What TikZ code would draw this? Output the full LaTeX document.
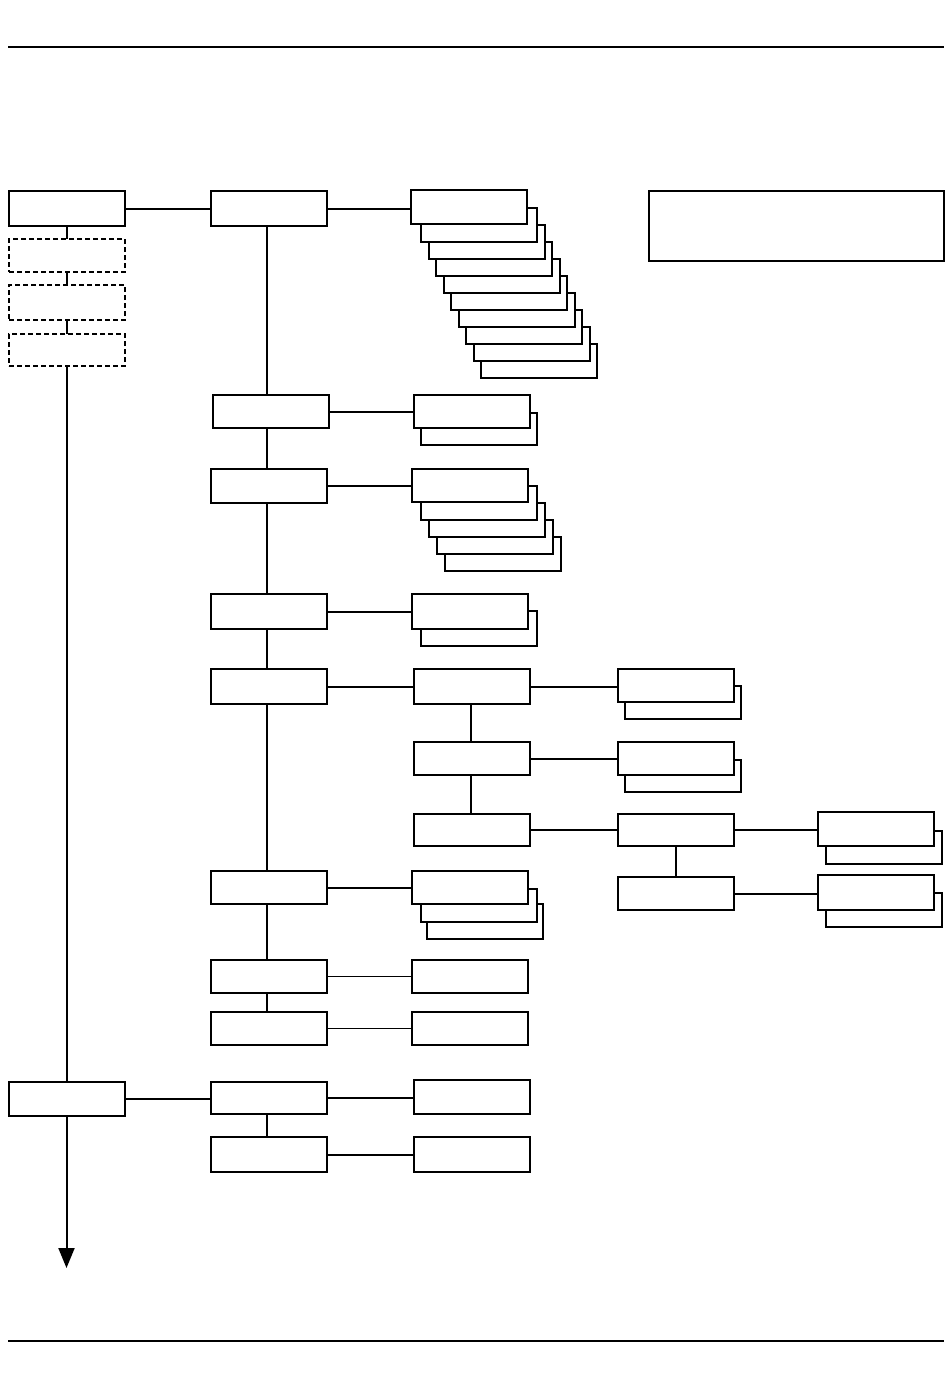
\documentclass[tikz,border=0pt]{standalone}
\usetikzlibrary{arrows.meta}
\begin{document}
\begin{tikzpicture}[x=1pt,y=-1pt,
  box/.style={draw, line width=2pt, fill=white, inner sep=0pt, outer sep=0pt,
              minimum width=116pt, minimum height=34pt},
  dbox/.style={box, dash pattern=on 5pt off 3pt},
  conn/.style={line width=2pt},
  thinconn/.style={line width=1pt},
  rule/.style={line width=1.6pt}]
\useasboundingbox (0,0) rectangle (950,1399);
% page rules
\coordinate (r1a) at (8,47);   \coordinate (r1b) at (944,47);
\coordinate (r2a) at (8,1341); \coordinate (r2b) at (944,1341);
\draw[rule] (r1a) -- (r1b);
\draw[rule] (r2a) -- (r2b);

% spine x positions
\coordinate (sp1) at (66.5,0);
\coordinate (sp2) at (266.5,0);
\coordinate (sp3) at (470.5,0);

% column 1
\node[box, minimum height=35pt] (A) at (67,208.5) {};
\node[dbox, minimum height=33pt] (D1) at (67,255.5) {};
\node[dbox, minimum height=35pt] (D2) at (67,302.5) {};
\node[dbox, minimum height=32pt] (D3) at (67,350) {};
\node[box] (Z) at (67,1099) {};
\coordinate (arrowend) at (66.5,1268);

% column 2
\node[box, minimum height=35pt] (B1) at (269,208.5) {};
\node[box, minimum height=33pt] (B2) at (271,411.5) {};
\node[box] (B3) at (269,486) {};
\node[box, minimum height=35pt] (B4) at (269,611.5) {};
\node[box, minimum height=35pt] (B5) at (269,686.5) {};
\node[box, minimum height=33pt] (B6) at (269,887.5) {};
\node[box, minimum height=33pt] (B7) at (269,976.5) {};
\node[box, minimum height=33pt] (B8) at (269,1028.5) {};
\node[box, minimum height=32pt] (B9) at (269,1098) {};
\node[box, minimum height=35pt] (B10) at (269,1154.5) {};

% column 3 : stack C1
\node[box] (C1i) at (539,360.5) {};
\node[box] (C1h) at (531.5,343.5) {};
\node[box] (C1g) at (524,326.5) {};
\node[box] (C1f) at (516.5,309.5) {};
\node[box] (C1e) at (509,292.5) {};
\node[box] (C1d) at (501.5,275.5) {};
\node[box] (C1c) at (494,258.5) {};
\node[box] (C1b) at (486.5,241.5) {};
\node[box] (C1a) at (479,224.5) {};
\node[box] (C1) at (469,207) {};
% stack C2
\node[box, minimum height=32pt] (C2a) at (479,428.7) {};
\node[box, minimum height=33pt] (C2) at (471.5,411.5) {};
% stack C3
\node[box] (C3d) at (502.7,554) {};
\node[box] (C3c) at (494.7,537) {};
\node[box] (C3b) at (486.7,520) {};
\node[box] (C3a) at (479.3,503) {};
\node[box, minimum height=33pt] (C3) at (469.7,485.5) {};
% stack C4
\node[box, minimum height=35pt] (C4a) at (479.2,628.2) {};
\node[box, minimum height=35pt] (C4) at (469.7,611.2) {};
% single boxes
\node[box, minimum height=35pt] (C5) at (471.5,686.5) {};
\node[box, minimum height=33pt] (C6) at (471.5,758.5) {};
\node[box, minimum height=32pt] (C7) at (471.5,830) {};
% stack C8
\node[box, minimum height=35pt] (C8b) at (485,921.2) {};
\node[box, minimum height=33pt] (C8a) at (479.2,905) {};
\node[box, minimum height=33pt] (C8) at (469.5,887.5) {};
\node[box, minimum height=33pt] (F1) at (469.7,976.5) {};
\node[box, minimum height=33pt] (F2) at (469.7,1028.5) {};
\node[box] (F3) at (471.5,1097) {};
\node[box, minimum height=35pt] (F4) at (471.5,1154.5) {};

% column 4
\node[box, minimum height=33pt] (G1a) at (683,702.5) {};
\node[box, minimum height=33pt] (G1) at (675.5,685.5) {};
\node[box, minimum height=32pt] (G2a) at (683,776) {};
\node[box, minimum height=33pt] (G2) at (675.5,758.5) {};
\node[box, minimum height=32pt] (G3) at (675.5,830) {};
\node[box, minimum height=33pt] (G4) at (675.5,893.5) {};

% column 5
\node[box, minimum height=33pt] (E1a) at (884,847.5) {};
\node[box] (E1) at (876,829) {};
\node[box] (E2a) at (884,910) {};
\node[box, minimum height=35pt] (E2) at (876,892.5) {};

% top right box
\node[box, minimum width=295pt, minimum height=70pt] (N) at (796.5,226) {};

% vertical connectors
\draw[conn] (sp1 |- A.south) -- (sp1 |- D1.north);
\draw[conn] (sp1 |- D1.south) -- (sp1 |- D2.north);
\draw[conn] (sp1 |- D2.south) -- (sp1 |- D3.north);
\draw[conn] (sp1 |- D3.south) -- (sp1 |- Z.north);
\draw[conn, -{Triangle[length=20pt, width=16pt]}] (sp1 |- Z.south) -- (arrowend);

\draw[conn] (sp2 |- B1.south) -- (sp2 |- B2.north);
\draw[conn] (sp2 |- B2.south) -- (sp2 |- B3.north);
\draw[conn] (sp2 |- B3.south) -- (sp2 |- B4.north);
\draw[conn] (sp2 |- B4.south) -- (sp2 |- B5.north);
\draw[conn] (sp2 |- B5.south) -- (sp2 |- B6.north);
\draw[conn] (sp2 |- B6.south) -- (sp2 |- B7.north);
\draw[conn] (sp2 |- B7.south) -- (sp2 |- B8.north);
\draw[conn] (sp2 |- B9.south) -- (sp2 |- B10.north);

\draw[conn] (sp3 |- C5.south) -- (sp3 |- C6.north);
\draw[conn] (sp3 |- C6.south) -- (sp3 |- C7.north);
\draw[conn] (G3.south) -- (G3.south |- G4.north);

% horizontal connectors
\draw[conn] (A.east) -- (A.east -| B1.west);
\draw[conn] (B1.east) -- (B1.east -| C1.west);
\draw[conn] (B2.east) -- (B2.east -| C2.west);
\draw[conn] (B3.east) -- (B3.east -| C3.west);
\draw[conn] (B4.east) -- (B4.east -| C4.west);
\draw[conn] (B5.east) -- (B5.east -| C5.west);
\draw[conn] (B6.east) -- (B6.east -| C8.west);
\draw[thinconn] (B7.east) -- (B7.east -| F1.west);
\draw[thinconn] (B8.east) -- (B8.east -| F2.west);
\draw[conn] (Z.east) -- (Z.east -| B9.west);
\draw[conn] (B9.east) -- (B9.east -| F3.west);
\draw[conn] (B10.east) -- (B10.east -| F4.west);
\draw[conn] (C5.east) -- (C5.east -| G1.west);
\draw[conn] (C6.east) -- (C6.east -| G2.west);
\draw[conn] (C7.east) -- (C7.east -| G3.west);
\draw[conn] (G3.east) -- (G3.east -| E1.west);
\draw[conn] (G4.east) -- (G4.east -| E2.west);
\end{tikzpicture}
\end{document}
